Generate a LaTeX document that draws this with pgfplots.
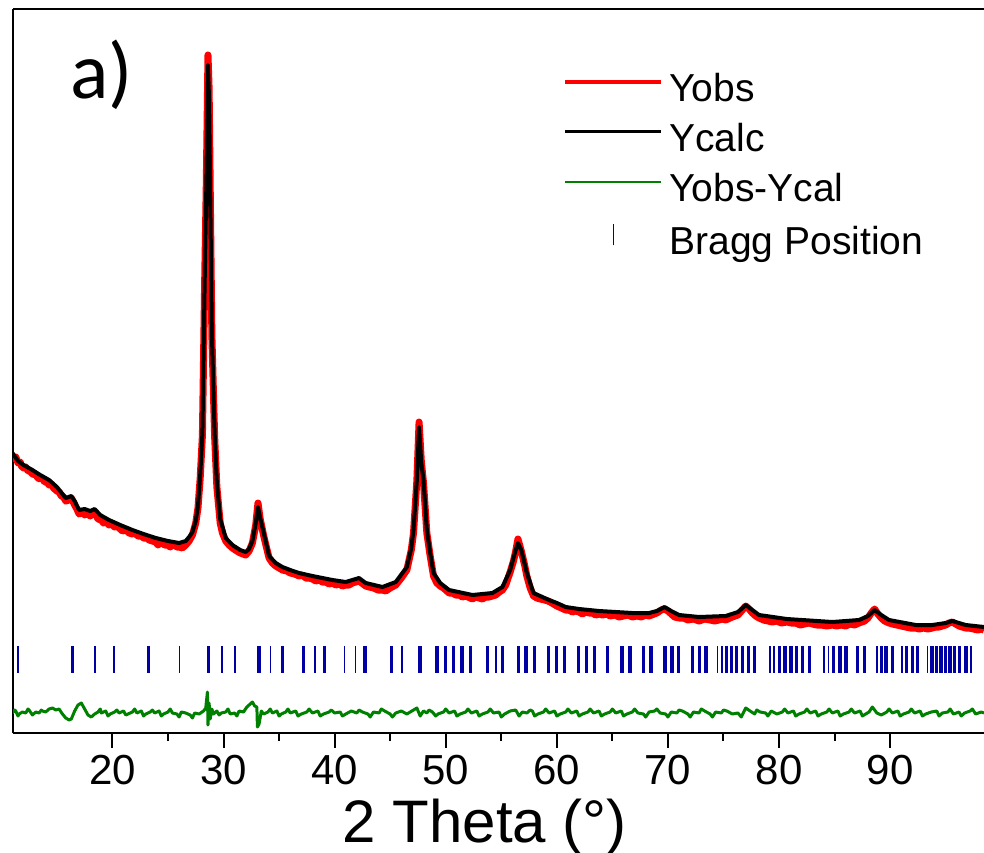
\documentclass[border=0pt]{standalone}
\usepackage{pgfplots}
\pgfplotsset{compat=1.18}
\usepackage{fontspec}
\setmainfont{Liberation Sans}
\newfontfamily\calibri{Carlito}
\definecolor{braggblue}{RGB}{0,0,165}
\definecolor{resgreen}{RGB}{0,128,0}
\begin{document}
\begin{tikzpicture}
\begin{axis}[
  scale only axis, width=485.5pt, height=362pt,
  xmin=11.05, xmax=98.45, ymin=0, ymax=724,
  axis x line=box, axis y line=left,
  axis line style={-, line width=1pt, black},
  xtick={20,30,40,50,60,70,80,90}, minor x tick num=1, xtick pos=bottom,
  ytick=\empty,
  tick align=outside, major tick length=7.5pt, minor tick length=4pt,
  every tick/.style={line width=1pt, black},
  ticklabel style={font=\fontsize{21}{25}\selectfont},
  /pgf/number format/assume math mode=true,
  xlabel={2 Theta (°)},
  xlabel style={font=\fontsize{30}{34}\selectfont, at={(rel axis cs:0.486,0)}, anchor=base, yshift=-54.5pt},
  legend style={at={(rel axis cs:0.5603,0.917)}, anchor=north west, draw=none, fill=none,
    font=\fontsize{19.5}{23}\selectfont, nodes={inner sep=0pt, text height=14pt, text depth=4.5pt},
    row sep=6.5pt, column sep=3pt},
  legend cell align=left,
  line join=round,
]
\addplot[red, line width=3.5pt, legend image code/.code={\draw[red, line width=2pt] (0pt,5pt)--(48pt,5pt);}] coordinates {
(11.0,277)(11.2,274)(11.3,276)(11.5,270)(11.7,271)(11.8,267)(12.0,265)(12.2,266)(12.4,262)(12.6,262)(12.8,259)(13.1,258)(13.3,255)(13.5,254)(13.7,255)(13.9,251)
(14.1,251)(14.3,248)(14.5,249)(14.7,245)(15.0,242)(15.2,241)(15.4,237)(15.6,236)(15.8,232)(16.1,233)(16.3,235)(16.6,228)(16.8,224)(17.0,219)(17.3,221)
(17.5,218)(17.7,220)(18.0,217)(18.2,219)(18.4,221)(18.7,214)(19.0,213)(19.2,210)(19.4,211)(19.7,208)(19.9,209)(20.2,206)(20.4,207)(20.7,204)(20.9,202)(21.2,203)
(21.5,200)(21.8,199)(22.0,200)(22.3,197)(22.6,197)(22.8,195)(23.1,195)(23.3,193)(23.6,192)(23.9,191)(24.1,188)(24.4,191)(24.7,188)(25.0,188)(25.2,186)(25.5,189)(25.8,186)(26.0,186)(26.3,185)
(26.6,188)(26.9,192)(27.2,198)(27.5,210)(27.7,225)(27.9,255)(28.1,298)(28.3,450)(28.45,550)(28.6,678)(28.7,645)(28.8,545)
(28.95,398)(29.2,296)(29.4,246)(29.7,210)(29.9,200)(30.2,192)(30.5,188)(30.8,185)(31.2,182)
(31.5,180)(32.0,178)(32.3,182)(32.6,190)(32.9,208)(33.1,230)(33.3,214)(33.6,198)(33.9,184)(34.1,175)(34.4,170)
(34.7,167)(35.0,165)(35.3,163)(35.7,162)(36.0,160)(36.4,159)(36.8,157)(37.1,158)(37.4,155)(37.7,155)(38.0,154)(38.3,152)(38.6,153)
(38.9,151)(39.2,151)(39.5,149)(39.8,150)(40.1,148)(40.4,149)(40.7,147)(41.0,148)(41.3,148)(41.6,150)(42.2,152)(42.8,147)(43.1,146)(43.5,145)(43.9,143)(44.3,143)(44.6,142)(45.0,145)
(45.5,148)(46.0,155)(46.5,163)(46.9,183)(47.1,200)(47.4,252)(47.6,311)(47.8,272)(48.0,250)(48.3,200)
(48.6,177)(48.9,157)(49.2,150)(49.5,147)(49.8,145)(50.0,143)(50.3,140)(50.6,140)(50.9,138)(51.2,138)(51.5,136)(51.8,137)(52.0,136)(52.4,134)(52.7,136)
(53.0,135)(53.3,134)(53.6,136)(53.9,136)(54.2,137)(54.5,138)(54.7,140)(55.1,143)(55.4,148)(55.8,161)(56.1,172)(56.3,182)(56.5,194)
(56.8,182)(57.1,168)(57.3,157)(57.6,145)(57.9,137)(58.2,135)(58.5,134)(58.9,133)(59.2,132)(59.4,131)(59.7,129)
(60.0,127)(60.4,125)(60.8,123)(61.1,123)(61.4,121)(61.7,122)(62.0,121)(62.3,119)(62.6,121)(62.9,120)(63.2,120)(63.5,118)(63.8,119)(64.1,118)(64.5,119)(64.8,117)(65.2,118)(65.6,116)
(66.0,117)(66.4,118)(66.8,116)(67.2,117)(67.6,116)(68.0,118)(68.3,117)(69.0,120)(69.4,123)(69.7,124)(70.0,122)(70.3,119)(70.6,116)(71.0,115)
(71.4,115)(71.8,113)(72.3,114)(72.8,112)(73.3,114)(73.8,113)(74.2,112)(74.6,113)(74.9,114)(75.2,113)(75.8,116)(76.3,118)(76.7,123)(77.0,127)(77.3,124)
(77.6,120)(77.9,117)(78.2,115)(78.6,113)(79.0,112)(79.4,111)(79.8,112)(80.2,110)(80.7,111)(81.1,110)(81.5,110)(81.9,108)(82.3,109)(82.7,110)(83.0,109)(83.4,108)(83.8,108)(84.3,107)(84.8,108)
(85.2,107)(85.6,108)(86.0,107)(86.4,109)(86.8,108)(87.2,110)(87.7,112)(88.0,115)(88.3,120)(88.6,124)(88.9,119)(89.2,115)(89.5,112)(89.9,110)
(90.2,109)(90.6,108)(91.0,107)(91.4,106)(91.8,105)(92.3,105)(92.6,104)(93.0,105)(93.4,104)(93.8,105)(94.1,106)(94.4,106)(94.7,107)(95.0,108)(95.3,110)(95.6,111)(95.9,109)(96.2,107)(96.5,106)(96.8,105)
(97.1,105)(97.5,104)(97.9,103)(98.2,104)(98.45,103)
};
\addlegendentry{Yobs}
\addplot[black, line width=2pt, legend image code/.code={\draw[black, line width=1.5pt] (0pt,5pt)--(48pt,5pt);}] coordinates {
(11.0,280)(11.5,272)(12.0,268)(12.8,263)(13.5,258)(14.3,253)(15.0,246)(15.8,235)(16.3,237)(16.6,232)
(17.0,223)(17.5,224)(18.0,222)(18.4,224)(18.9,218)(19.7,213)(20.7,208)(21.8,203)(22.8,199)(23.9,195)
(25.0,192)(26.0,190)(26.6,192)(26.9,196)(27.2,201)(27.5,212)(27.7,227)(27.9,258)(28.1,300)(28.3,450)(28.45,545)(28.6,668)
(28.7,632)(28.8,540)(28.95,400)(29.2,300)(29.4,250)(29.7,214)(30.2,195)(30.8,188)(31.5,183)(32.0,181)
(32.3,184)(32.6,192)(32.9,210)(33.1,226)(33.3,215)(33.6,201)(34.1,177)(34.7,170)(35.3,166)(36.0,163)(36.8,160)
(38.0,157)(39.8,153)(41.0,151)(42.2,155)(42.8,150)(44.3,146)(45.5,151)(46.5,166)(46.9,185)(47.1,203)
(47.4,253)(47.6,306)(47.8,270)(48.0,253)(48.3,203)(48.6,180)(48.9,160)(49.5,150)(50.3,143)(52.4,138)
(54.2,140)(55.1,146)(55.8,163)(56.3,183)(56.5,190)(56.8,183)(57.3,160)(57.9,140)(58.5,137)(59.3,133)
(60.0,130)(60.8,126)(62.0,124)(63.8,122)(66.8,120)(68.3,120)(69.0,122)(69.7,126)(70.3,122)(71.0,118)
(72.8,116)(75.2,117)(76.3,121)(77.0,128)(77.6,123)(78.2,118)(80.7,114)(84.8,111)(87.2,113)(88.0,117)
(88.6,123)(89.2,118)(89.9,113)(92.3,108)(93.8,108)(95.0,110)(95.6,112)(96.2,110)(96.8,108)(98.45,106)
};
\addlegendentry{Ycalc}
\addplot[resgreen, line width=1.5pt, legend image code/.code={\draw[resgreen, line width=0.8pt] (0pt,5pt)--(48pt,5pt);}] coordinates {
(11.0,20)(11.2,23)(11.3,22)(11.5,17)(11.6,19)(11.9,21)(12.2,20)(12.4,24)(12.5,23)(12.8,18)(13.1,21)(13.4,20)(13.6,23)(13.7,22)
(14.0,21)(14.3,24)(14.6,25)(14.9,23)(15.2,24)(15.5,19)(15.8,15)(16.1,13)(16.3,14)(16.6,22)
(16.9,28)(17.2,30)(17.5,24)(17.8,18)(18.1,16)(18.4,19)(18.7,21)(18.9,24)(19.0,20)(19.4,22)(19.6,17)(19.8,19)
(20.2,21)(20.4,23)(20.6,20)(21.0,22)(21.2,18)(21.4,19)(21.8,21)(22.0,24)(22.2,20)(22.6,22)(22.8,17)(23.0,19)(23.4,21)(23.6,23)(23.8,20)
(24.2,22)(24.4,17)(24.6,19)(25.0,21)(25.2,24)(25.4,20)(25.8,19)(26.0,16)(26.2,21)(26.6,20)(27.0,18)(27.2,15)(27.4,20)(27.8,19)
(28.2,22)(28.4,25)(28.55,41)(28.6,8)(28.7,30)(28.8,14)(28.95,24)(29.1,19)(29.4,22)(29.6,18)(29.8,20)
(30.2,21)(30.4,24)(30.6,19)(31.0,20)(31.2,17)(31.4,22)(31.8,21)(32.1,26)(32.4,29)(32.6,31)(32.8,27)(33.0,26)(33.05,6)
(33.2,9)(33.4,22)(33.6,19)(34.0,21)(34.2,24)(34.4,20)(34.8,22)(35.0,17)(35.2,19)(35.6,21)(35.8,24)(36.0,20)(36.5,22)
(36.7,17)(37.0,19)(37.5,21)(37.7,24)(38.0,20)(38.5,22)(38.7,17)(39.0,19)(39.5,21)(39.7,23)(40.0,20)(40.5,21)(40.7,17)(41.0,19)(41.5,22)
(42.0,20)(42.2,23)(42.5,21)(43.0,19)(43.2,16)(43.5,21)(44.0,20)(44.2,24)(44.5,22)(45.0,19)(45.2,16)(45.5,20)(46.0,22)(46.5,19)
(47.1,23)(47.4,25)(47.7,17)(48.0,22)(48.3,20)(48.5,23)(48.8,21)(49.1,17)(49.3,19)(49.8,21)(50.0,24)(50.3,20)(50.8,22)
(51.0,17)(51.3,19)(51.8,21)(52.0,24)(52.3,20)(52.8,22)(53.0,17)(53.3,19)(53.8,21)(54.0,24)(54.3,20)(54.8,21)(55.0,16)(55.3,19)(55.8,22)
(56.3,23)(56.6,17)(56.9,21)(57.3,20)(57.6,23)(57.8,22)(58.0,17)(58.3,19)(58.8,21)(59.0,24)(59.3,20)(59.8,22)(60.0,17)(60.3,19)
(60.8,21)(61.0,24)(61.3,20)(61.8,22)(62.0,17)(62.3,19)(62.8,21)(63.0,24)(63.3,20)(63.8,22)(64.0,17)(64.3,19)(64.8,21)(65.0,24)(65.3,20)
(65.8,22)(66.0,17)(66.3,19)(66.8,21)(67.0,24)(67.3,20)(67.8,19)(68.0,16)(68.3,21)(68.8,22)(69.0,24)(69.3,20)(69.8,19)(70.0,16)(70.3,21)
(70.8,20)(71.0,23)(71.3,22)(71.8,19)(72.0,16)(72.3,21)(72.8,20)(73.0,24)(73.3,22)(73.8,19)(74.0,16)(74.3,21)(74.8,20)(75.0,23)(75.3,22)
(75.8,19)(76.3,20)(76.6,16)(77.0,25)(77.4,22)(77.8,19)(78.0,23)(78.3,21)(78.8,20)(79.0,17)(79.3,22)(79.8,19)
(80.3,21)(80.5,24)(80.8,20)(81.3,22)(81.5,17)(81.8,19)(82.3,21)(82.5,24)(82.8,20)(83.3,22)(83.5,17)(83.8,19)(84.3,21)(84.5,24)(84.8,20)
(85.3,22)(85.5,17)(85.8,19)(86.3,21)(86.5,24)(86.8,20)(87.3,22)(87.5,17)(87.8,19)(88.1,21)(88.4,26)(88.8,20)(89.2,18)
(89.7,21)(89.9,24)(90.2,20)(90.7,22)(90.9,17)(91.2,19)(91.7,21)(91.9,24)(92.2,20)(92.7,22)(92.9,17)(93.2,19)(93.7,21)(94.2,22)
(94.4,17)(94.7,20)(95.2,21)(95.4,24)(95.7,19)(96.2,21)(96.4,17)(96.7,20)(97.2,22)(97.4,24)(97.7,19)(98.2,21)(98.45,20)
};
\addlegendentry{Yobs-Ycal}
\addplot[only marks, mark=|, mark size=6.75pt, mark options={draw=braggblue, line width=1.6pt},
  legend image code/.code={\draw[braggblue, line width=0.8pt] (24pt,0pt)--(24pt,10.5pt);}] coordinates {
(16.41,73.5)(23.25,73.5)(28.62,73.5)(33.19,73.5)(35.28,73.5)(37.17,73.5)(39.09,73.5)(42.73,73.5)
(45.09,73.5)(47.68,73.5)(49.21,73.5)(49.96,73.5)(50.68,73.5)(51.46,73.5)(52.21,73.5)(53.74,73.5)
(55.11,73.5)(56.55,73.5)(57.22,73.5)(57.97,73.5)(59.25,73.5)(59.97,73.5)(60.67,73.5)(61.93,73.5)
(62.67,73.5)(63.37,73.5)(64.57,73.5)(65.86,73.5)(66.58,73.5)(67.78,73.5)(68.47,73.5)(69.73,73.5)
(70.36,73.5)(70.95,73.5)(72.21,73.5)(72.82,73.5)(73.42,73.5)(75.27,73.5)(75.72,73.5)(76.17,73.5)
(76.71,73.5)(77.25,73.5)(77.77,73.5)(80.02,73.5)(80.53,73.5)(81.07,73.5)(81.58,73.5)(82.12,73.5)
(82.72,73.5)(84.90,73.5)(85.48,73.5)(86.02,73.5)(87.07,73.5)(87.67,73.5)(89.23,73.5)(89.62,73.5)
(90.21,73.5)(91.47,73.5)(92.01,73.5)(92.47,73.5)(93.76,73.5)(94.18,73.5)(94.57,73.5)(94.96,73.5)
(95.38,73.5)(95.77,73.5)(96.22,73.5)(96.82,73.5)
};
\addlegendentry{Bragg Position}
\addplot[forget plot, only marks, mark=|, mark size=6.75pt, mark options={draw=braggblue, line width=0.8pt}] coordinates {
(11.52,73.5)(18.42,73.5)(20.16,73.5)(26.04,73.5)(29.86,73.5)(31.03,73.5)(34.23,73.5)(38.25,73.5)
(40.89,73.5)(41.88,73.5)(46.08,73.5)(54.52,73.5)(74.46,73.5)(74.86,73.5)(79.21,73.5)(79.57,73.5)
(84.07,73.5)(84.46,73.5)(88.81,73.5)(91.06,73.5)(93.37,73.5)(97.27,73.5)
};
\node[font=\calibri\fontsize{40}{44}\selectfont, anchor=base west, inner sep=0pt] at (rel axis cs:0.0587,0.877) {a)};
\end{axis}
\pgfresetboundingbox
\useasboundingbox (-6.5pt,-59.5pt) rectangle (485.5pt,366.5pt);
\end{tikzpicture}
\end{document}
